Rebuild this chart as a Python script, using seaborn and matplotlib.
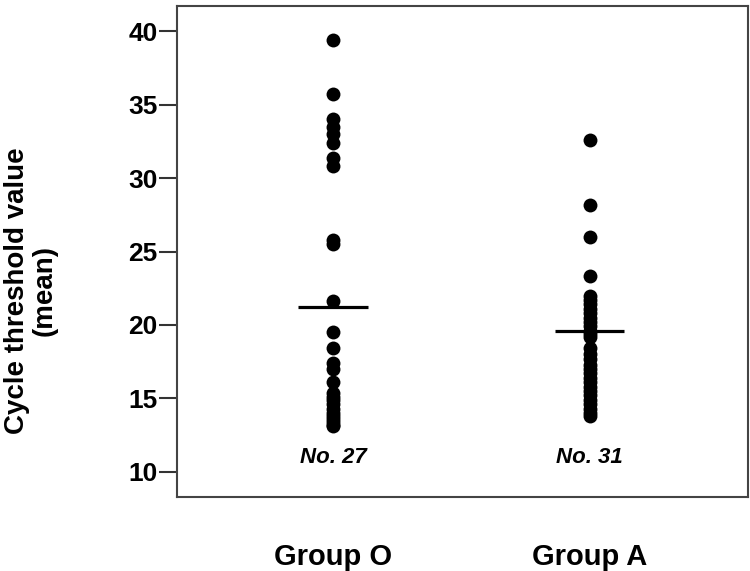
import matplotlib

matplotlib.use('Agg')
import matplotlib.pyplot as plt
import pandas as pd
import seaborn as sns

# values (Ct value per sample)
GROUPS = ['Group O', 'Group A']
GROUP_O = [39.4, 35.7, 34.0, 33.5, 33.0, 32.4, 31.4, 30.8,
           25.8, 25.5,
           21.6, 19.5, 18.4, 17.4, 17.0, 16.1,
           15.4, 15.1, 14.9, 14.6, 14.3, 14.0, 13.8, 13.6, 13.4, 13.2, 13.1]
GROUP_A = [32.6, 28.2, 26.0, 23.3,
           22.0, 21.7, 21.4, 21.1, 20.8, 20.5, 20.2, 19.9, 19.6, 19.4, 19.2,
           18.4, 18.0, 17.7, 17.3, 17.0, 16.7, 16.4, 16.1, 15.8, 15.5, 15.2,
           14.9, 14.6, 14.3, 14.0, 13.8]
MEANS = [21.2, 19.6]
COUNT_LABELS = ['No. 27', 'No. 31']
Y_TICKS = [10, 15, 20, 25, 30, 35, 40]

sns.set_theme(style='ticks')
plt.rcParams['font.family'] = ['Liberation Sans', 'DejaVu Sans']
plt.rcParams.update({'text.color': 'black', 'axes.labelcolor': 'black',
                     'xtick.labelcolor': 'black',
                     'ytick.labelcolor': 'black'})

df = pd.DataFrame({
    'group': [GROUPS[0]] * len(GROUP_O) + [GROUPS[1]] * len(GROUP_A),
    'ct': GROUP_O + GROUP_A,
})

fig = plt.figure(figsize=(7.5, 5.71), dpi=100)
ax = fig.add_axes([0.236, 0.130, 0.761, 0.859])

sns.stripplot(data=df, x='group', y='ct', order=GROUPS, jitter=False,
              color='black', size=10, linewidth=0, ax=ax)

# mean bars
for i, m in enumerate(MEANS):
    ax.hlines(m, i - 0.135, i + 0.135, color='black', linewidth=2.3, zorder=3)

# sample counts
for i, lab in enumerate(COUNT_LABELS):
    ax.text(i, 11.0, lab, ha='center', va='center', fontsize=16,
            fontweight='bold', fontstyle='italic')

ax.set_xlim(-0.607, 1.615)
ax.set_ylim(8.3, 41.7)
ax.set_yticks(Y_TICKS)
ax.set_xlabel('')
ax.set_ylabel('Cycle threshold value\n(mean)', fontsize=20,
              fontweight='bold', linespacing=1.05)
ax.yaxis.set_label_coords(-0.21, 0.42)

ax.tick_params(axis='y', length=13, width=1.5, color='#333333', pad=1,
               labelsize=19)
ax.tick_params(axis='x', length=0, pad=33, labelsize=21)
for t in ax.get_yticklabels() + ax.get_xticklabels():
    t.set_fontweight('bold')

for s in ax.spines.values():
    s.set_color('#444444')
    s.set_linewidth(1.5)

fig.savefig('out.png', dpi=100)
plt.close(fig)
